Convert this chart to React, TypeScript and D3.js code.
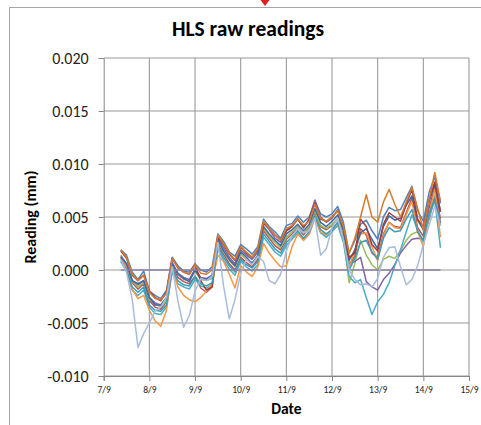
import React, { useEffect, useRef } from 'react';
import * as d3 from 'd3';

// hours since 7/9 00:00
const hours = [9, 12, 15, 18, 21, 24, 27, 30, 33, 36, 39, 42, 45, 48, 51, 54, 57, 60, 63, 66, 69, 72, 75, 78, 81, 84, 87, 90, 93, 96, 99, 102, 105, 108, 111, 114, 117, 120, 123, 126, 129, 132, 135, 138, 141, 144, 147, 150, 153, 156, 159, 162, 165, 168, 171, 174, 177];

const dateLabels = ['7/9', '8/9', '9/9', '10/9', '11/9', '12/9', '13/9', '14/9', '15/9'];
const yTicks = [-10, -5, 0, 5, 10, 15, 20]; // µm

// readings in µm (0.001 mm)
const hlsBlue = [1.9, 1.4, -0.2, -0.9, -0.1, -2.0, -2.4, -2.7, -1.9, 1.2, 0.4, -0.1, -0.2, 0.6, 0.0, -0.2, 0.3, 3.4, 2.7, 1.7, 1.3, 2.4, 2.0, 1.5, 2.2, 4.8, 4.1, 3.6, 3.0, 4.2, 4.4, 5.1, 4.5, 5.0, 6.5, 5.3, 5.0, 5.3, 6.0, 4.5, 1.6, 2.8, 4.3, 4.7, 3.7, 2.9, 5.0, 5.9, 5.6, 5.7, 6.8, 7.9, 5.6, 4.6, 7.3, 8.8, 6.3];
const hlsRed = [1.1, 0.4, -1.2, -1.8, -1.3, -2.9, -3.5, -3.7, -3.0, 0.3, -0.7, -1.1, -1.3, -0.6, -1.7, -2.1, -1.6, 2.5, 1.5, 0.6, 0.0, 1.2, 0.7, 0.3, 1.0, 3.7, 3.0, 2.3, 1.9, 2.9, 3.4, 4.0, 3.3, 4.0, 5.4, 4.1, 3.8, 4.2, 4.8, 3.2, 0.4, 1.3, 3.9, 3.3, 1.6, 1.2, 3.4, 4.5, 4.1, 4.0, 5.4, 6.8, 4.0, 3.2, 5.8, 7.8, 4.8];
const hlsGreen = [1.4, 0.5, -1.1, -1.6, -1.2, -2.8, -3.2, -3.5, -2.9, 0.6, -0.4, -0.9, -1.0, -0.1, -0.9, -1.0, -0.8, 2.8, 1.7, 0.9, 0.3, 1.5, 1.0, 0.7, 1.2, 3.9, 3.2, 2.6, 2.1, 3.1, 3.6, 4.1, 3.5, 4.1, 5.6, 4.2, 3.9, 4.3, 4.9, 3.0, -1.2, 0.6, 2.8, 1.4, 0.5, 0.0, 1.0, 1.3, 1.1, 1.8, 2.8, 3.4, 3.6, 2.8, 5.2, 7.0, 4.5];
const hlsPurple = [1.3, 0.6, -1.0, -1.4, -1.0, -2.6, -3.1, -3.3, -2.7, 0.7, -0.3, -0.7, -0.9, 0.1, -0.7, -0.8, -0.5, 3.1, 2.1, 1.2, 0.6, 1.9, 1.4, 1.0, 1.7, 4.5, 3.8, 3.0, 2.6, 3.7, 4.1, 4.8, 4.0, 4.7, 6.6, 5.0, 4.5, 4.9, 5.7, 3.8, 0.6, 0.8, 1.2, -1.1, -1.6, -1.9, -0.9, -0.3, 0.5, 1.6, 2.3, 2.9, 3.0, 2.9, 4.8, 6.8, 4.4];
const hlsCyan = [0.8, -0.1, -1.9, -2.4, -1.9, -3.5, -4.1, -4.2, -3.5, -0.2, -1.3, -1.6, -1.8, -0.9, -1.5, -1.7, -1.4, 2.0, 0.9, 0.1, -0.5, 0.8, 0.3, -0.1, 0.5, 3.1, 2.4, 1.7, 1.3, 2.3, 2.9, 3.5, 2.8, 3.4, 4.9, 3.5, 3.1, 3.6, 4.2, 2.6, -0.6, -1.2, -0.9, -2.6, -4.2, -3.0, -2.3, -1.2, 0.4, 1.9, 3.6, 5.2, 3.8, 2.6, 5.0, 6.6, 2.1];
const hlsOrange = [1.2, 0.2, -1.8, -2.7, -2.4, -3.8, -4.8, -5.3, -3.8, 0.2, -1.6, -2.4, -2.8, -3.0, -2.6, -2.0, -1.3, 1.4, 0.8, -0.4, -1.7, 0.4, -0.2, -0.6, 0.3, 2.5, 1.6, 0.9, 0.3, 0.4, 2.2, 3.4, 2.8, 3.4, 4.9, 3.6, 3.3, 3.8, 4.4, 2.9, 0.3, 1.8, 3.4, 3.5, 2.2, 0.9, 3.2, 4.5, 4.0, 3.9, 5.2, 6.5, 3.6, 2.2, 5.2, 7.6, 3.1];
const hlsDarkBlue = [1.2, 0.6, -1.0, -1.3, -1.0, -2.6, -3.3, -3.3, -2.6, 0.6, -0.4, -0.8, -1.1, 0.0, -0.8, -0.9, -0.5, 2.9, 1.8, 1.0, 0.4, 1.7, 1.2, 0.6, 1.4, 4.1, 3.4, 2.8, 2.3, 3.4, 3.8, 4.3, 3.7, 4.3, 5.8, 4.5, 4.1, 4.6, 5.2, 3.7, 0.9, 1.9, 3.5, 3.9, 2.9, 2.0, 4.1, 5.1, 4.7, 4.9, 6.1, 7.0, 4.7, 3.8, 6.4, 8.1, 5.5];
const hlsDarkRed = [1.8, 1.1, -0.5, -1.0, -0.5, -2.0, -2.6, -2.9, -2.1, 1.1, 0.2, -0.2, -0.4, 0.5, -1.0, -1.9, -1.6, 3.2, 2.4, 1.5, 0.9, 2.2, 1.6, 1.2, 1.9, 4.4, 3.9, 3.3, 2.8, 3.7, 4.1, 4.8, 4.0, 4.8, 6.3, 4.8, 4.6, 5.0, 5.6, 4.0, 1.2, 1.6, 4.8, 4.1, 2.4, 1.8, 4.3, 5.4, 5.0, 4.6, 6.2, 7.6, 4.8, 4.0, 6.6, 8.3, 5.5];
const hlsTeal = [0.9, 0.0, -1.6, -2.1, -1.6, -3.3, -3.8, -3.9, -3.3, 0.1, -1.0, -1.4, -1.5, -0.6, -1.3, -1.5, -1.2, 2.3, 1.2, 0.4, -0.2, 1.0, 0.5, 0.2, 0.8, 3.4, 2.7, 2.0, 1.6, 2.6, 3.1, 3.7, 3.0, 3.6, 5.1, 3.8, 3.4, 3.8, 4.5, 2.9, 0.0, 1.1, 2.6, 2.8, 1.7, 1.0, 3.0, 4.0, 3.6, 3.7, 4.8, 5.7, 3.6, 2.8, 5.3, 6.7, 4.2];
const hlsBrown = [1.9, 1.2, -0.4, -1.0, -0.5, -2.1, -2.7, -2.8, -2.2, 1.1, 0.2, -0.2, -0.4, 0.5, -0.3, -0.4, 0.0, 3.3, 2.5, 1.6, 1.0, 2.2, 1.7, 1.2, 2.0, 4.6, 3.9, 3.3, 2.8, 3.9, 4.2, 4.8, 4.2, 4.6, 6.2, 4.9, 4.6, 5.0, 5.6, 4.1, 1.6, 3.0, 5.0, 7.1, 5.0, 4.5, 6.4, 7.6, 6.2, 5.0, 6.4, 7.8, 5.8, 3.8, 6.6, 9.2, 6.5];
const hlsZero = [0, 0, 0, 0, 0, 0, 0, 0, 0, 0, 0, 0, 0, 0, 0, 0, 0, 0, 0, 0, 0, 0, 0, 0, 0, 0, 0, 0, 0, 0, 0, 0, 0, 0, 0, 0, 0, 0, 0, 0, 0, 0, 0, 0, 0, 0, 0, 0, 0, 0, 0, 0, 0, 0, 0, 0, 0];
const hlsGrey = [1.0, -0.2, -2.8, -7.3, -6.0, -5.0, -3.9, -3.5, -2.6, 0.3, -2.9, -5.4, -4.3, -2.0, -0.8, -1.0, -0.6, 2.6, -1.5, -4.6, -2.8, -0.3, 1.0, 0.5, 1.3, 0.8, -1.0, -1.3, -0.4, 1.8, 3.2, 3.9, 3.5, 3.7, 4.9, 1.4, 2.0, 4.0, 4.9, 2.8, 0.0, -0.9, -1.4, -1.3, -1.6, -0.8, 1.2, 2.1, 2.2, 0.3, -1.4, -0.9, 0.4, 2.4, 4.2, 6.0, 4.2];

const series = [
  { values: hlsBlue, color: '#4F81BD' },
  { values: hlsRed, color: '#C0504D' },
  { values: hlsGreen, color: '#9BBB59' },
  { values: hlsPurple, color: '#8064A2' },
  { values: hlsCyan, color: '#4BACC6' },
  { values: hlsOrange, color: '#F79646' },
  { values: hlsDarkBlue, color: '#3B6AAE' },
  { values: hlsDarkRed, color: '#A23B37' },
  { values: hlsTeal, color: '#3A9CB8' },
  { values: hlsBrown, color: '#D57C2C' },
  { values: hlsZero, color: '#8C80A6' },
  { values: hlsGrey, color: '#A9BCDC' },
];

const FONT = "Carlito, Calibri, 'Noto Sans', sans-serif";

const App = () => {
  const svgRef = useRef<SVGSVGElement>(null);

  useEffect(() => {
    const svg = d3.select(svgRef.current);
    svg.selectAll('*').remove();

    const x = d3.scaleLinear().domain([0, 192]).range([103.7, 469]);
    const y = d3.scaleLinear().domain([-10, 20]).range([376, 58]);

    svg.append('rect').attr('width', 481).attr('height', 425).attr('fill', '#fff');

    // chart area border
    svg.append('rect')
      .attr('x', 9.5).attr('y', 7.5)
      .attr('width', 520).attr('height', 460)
      .attr('fill', 'none')
      .attr('stroke', '#A6A6A6');

    // red marker at the top
    svg.append('path')
      .attr('d', 'M260.5,0 L269.5,0 L265,6 Z')
      .attr('fill', '#E0201F');

    // title
    svg.append('text')
      .attr('x', 248).attr('y', 36)
      .attr('text-anchor', 'middle')
      .style('font-family', FONT)
      .style('font-size', '21.5px')
      .style('font-weight', 'bold')
      .text('HLS raw readings');

    // gridlines
    const days = dateLabels.map((_, i) => i * 24);
    svg.append('g').selectAll('line')
      .data(yTicks)
      .enter()
      .append('line')
      .attr('x1', x(0)).attr('x2', x(192))
      .attr('y1', d => y(d)).attr('y2', d => y(d))
      .attr('stroke', '#9A9A9A').attr('stroke-width', 1.1);
    svg.append('g').selectAll('line')
      .data(days.slice(1))
      .enter()
      .append('line')
      .attr('x1', d => x(d)).attr('x2', d => x(d))
      .attr('y1', y(20)).attr('y2', y(-10))
      .attr('stroke', '#9A9A9A').attr('stroke-width', 1.1);

    // y axis
    const fmt = d3.format('.3f');
    const yAxis = svg.append('g')
      .attr('transform', `translate(${x(0)},0)`)
      .call(d3.axisLeft(y).tickValues(yTicks).tickSize(5).tickPadding(10)
        .tickFormat(d => fmt((d as number) / 1000).replace('\u2212', '-')));
    yAxis.select('.domain').attr('stroke', '#868686');
    yAxis.selectAll('.tick line').attr('stroke', '#868686');
    yAxis.selectAll('text')
      .style('font-family', FONT).style('font-size', '16px').attr('fill', '#222');

    // x axis
    const xAxis = svg.append('g')
      .attr('transform', `translate(0,${y(-10)})`)
      .call(d3.axisBottom(x).tickValues(days).tickSize(5).tickPadding(5)
        .tickFormat((_, i) => dateLabels[i]));
    xAxis.select('.domain').attr('stroke', '#868686');
    xAxis.selectAll('.tick line').attr('stroke', '#868686');
    xAxis.selectAll('text')
      .style('font-family', FONT).style('font-size', '9.5px').attr('fill', '#222');

    // axis titles
    svg.append('text')
      .attr('x', (x(0) + x(192)) / 2).attr('y', 414)
      .attr('text-anchor', 'middle')
      .style('font-family', FONT).style('font-size', '15.5px').style('font-weight', 'bold')
      .text('Date');
    svg.append('text')
      .attr('transform', `translate(36,${(y(20) + y(-10)) / 2}) rotate(-90)`)
      .attr('text-anchor', 'middle')
      .style('font-family', FONT).style('font-size', '16px').style('font-weight', 'bold')
      .text('Reading (mm)');

    // lines
    const line = d3.line<number>()
      .x((_, i) => x(hours[i]))
      .y(d => y(d));

    svg.append('g').selectAll('path')
      .data(series)
      .enter()
      .append('path')
      .attr('fill', 'none')
      .attr('stroke', d => d.color)
      .attr('stroke-width', 1.5)
      .attr('stroke-linejoin', 'round')
      .attr('d', d => line(d.values));
  }, []);

  return (
    <svg ref={svgRef} width={481} height={425}
      style={{ position: 'absolute', left: 0, top: 0, display: 'block' }}></svg>
  );
};

export default App;
